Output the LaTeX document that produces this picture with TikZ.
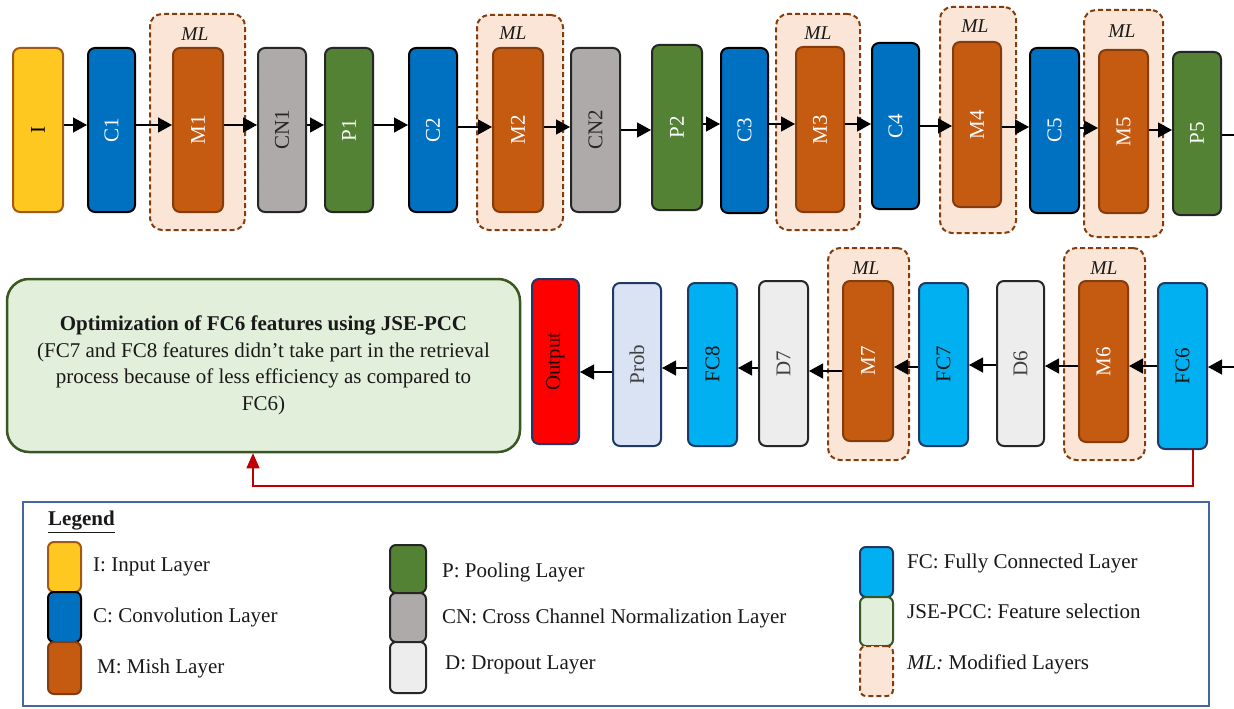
\documentclass[tikz,border=0pt]{standalone}
\usepackage{fontspec}
\IfFontExistsTF{LiberationSerif-Regular.ttf}{%
  \setmainfont{LiberationSerif}[Extension=.ttf, UprightFont=*-Regular, BoldFont=*-Bold, ItalicFont=*-Italic, BoldItalicFont=*-BoldItalic]}{%
  \setmainfont{Liberation Serif}}
\usetikzlibrary{arrows.meta}
\definecolor{cI}{RGB}{255,200,32}
\definecolor{cIb}{RGB}{160,90,20}
\definecolor{cC}{RGB}{0,112,192}
\definecolor{cM}{RGB}{197,90,17}
\definecolor{cMb}{RGB}{132,60,12}
\definecolor{cCN}{RGB}{174,170,170}
\definecolor{cP}{RGB}{84,130,53}
\definecolor{cML}{RGB}{251,229,214}
\definecolor{cMLb}{RGB}{132,60,12}
\definecolor{cOut}{RGB}{255,0,0}
\definecolor{cNavy}{RGB}{31,56,100}
\definecolor{cProb}{RGB}{218,227,243}
\definecolor{cFC}{RGB}{0,176,240}
\definecolor{cD}{RGB}{237,237,237}
\definecolor{cJ}{RGB}{226,239,218}
\definecolor{cJb}{RGB}{56,87,35}
\definecolor{cRed}{RGB}{192,0,0}
\definecolor{cLeg}{RGB}{65,105,160}
\definecolor{cDark}{RGB}{38,38,38}
\definecolor{cTxt}{RGB}{64,64,64}
% layer node: name, x1, y1, x2, y2, style, label
\newcommand\lyr[7]{\node[#6, minimum width={(#4-#2)*1pt}, minimum height={(#5-#3)*1pt}] (#1) at ({(#2+#4)/2},{(#3+#5)/2}) {\rotatebox{90}{#7}};}
% modified-layer frame: name, x1, y1, x2, y2, label x, label y
\newcommand\mlfr[7]{\node[mlst, minimum width={(#4-#2)*1pt}, minimum height={(#5-#3)*1pt}] (#1) at ({(#2+#4)/2},{(#3+#5)/2}) {};
\node[mllab] (#1lab) at (#6,#7) {ML};}
% legend swatch: name, x1, y1, x2, y2, style
\newcommand\swt[6]{\node[#6, rounded corners=6pt, minimum width={(#4-#2)*1pt}, minimum height={(#5-#3)*1pt}] (#1) at ({(#2+#4)/2},{(#3+#5)/2}) {};}
\newcommand\rarr[3]{\draw[arr] (#1.east |- 0,#3) -- (#2.west |- 0,#3);}
\newcommand\larr[3]{\draw[arr] (#1.west |- 0,#3) -- (#2.east |- 0,#3);}
\begin{document}
\begin{tikzpicture}[x=1pt,y=-1pt,
  base/.style={rectangle, rounded corners=7pt, line width=2pt, inner sep=0pt, font=\fontsize{21}{25}\selectfont},
  stI/.style={base, fill=cI, draw=cIb, text=black},
  stC/.style={base, fill=cC, draw=black, text=white},
  stM/.style={base, fill=cM, draw=cMb, text=white},
  stCN/.style={base, fill=cCN, draw=cDark, text=cDark},
  stP/.style={base, fill=cP, draw=cDark, text=white},
  stOut/.style={base, fill=cOut, draw=cNavy, text=black!85!red},
  stProb/.style={base, fill=cProb, draw=cNavy, text=cTxt},
  stFC/.style={base, fill=cFC, draw=cNavy, text=black!90},
  stD/.style={base, fill=cD, draw=cDark, text=cTxt},
  stJ/.style={base, fill=cJ, draw=cJb},
  mlst/.style={rectangle, rounded corners=12pt, fill=cML, draw=cMLb, line width=2pt, dash pattern=on 5pt off 3pt, inner sep=0pt},
  stMLs/.style={base, fill=cML, draw=cMLb, dash pattern=on 5pt off 3pt},
  mllab/.style={font=\fontsize{19.5}{22}\selectfont\itshape, text=black!90, inner sep=0pt},
  arr/.style={-{Triangle[length=14pt,width=15pt]}, line width=1.3pt, black},
  redarr/.style={-{Triangle[length=15pt,width=13pt]}, line width=1.3pt, draw=cRed, color=cRed},
  legtxt/.style={anchor=west, inner sep=0pt, font=\fontsize{21}{25}\selectfont, text=black!90},
]
\useasboundingbox (0,0) rectangle (1234,709);
\fill[white] (0,0) rectangle (1234,709);

% ---------- top row: modified-layer frames ----------
\mlfr{ml1}{150}{14}{245}{230}{195}{34}
\mlfr{ml2}{477}{15}{563}{230}{513}{33}
\mlfr{ml3}{776}{14}{860}{230}{818}{33}
\mlfr{ml4}{940}{7}{1016}{233}{975}{26}
\mlfr{ml5}{1084}{10}{1163}{237}{1122}{31}

% ---------- top row: layers ----------
\lyr{I}{13}{48}{63}{212}{stI}{I}
\lyr{C1}{88}{48}{135}{212}{stC}{C1}
\lyr{M1}{173}{48}{223}{212}{stM}{M1}
\lyr{CN1}{258}{48}{306}{212}{stCN}{CN1}
\lyr{P1}{325}{48}{373}{212}{stP}{P1}
\lyr{C2}{409}{48}{457}{212}{stC}{C2}
\lyr{M2}{493}{48}{543}{212}{stM}{M2}
\lyr{CN2}{571}{48}{620}{212}{stCN}{CN2}
\lyr{P2}{652}{45}{702}{210}{stP}{P2}
\lyr{C3}{721}{48}{768}{213}{stC}{C3}
\lyr{M3}{796}{47}{844}{212}{stM}{M3}
\lyr{C4}{872}{43}{919}{209}{stC}{C4}
\lyr{M4}{953}{42}{1001}{207}{stM}{M4}
\lyr{C5}{1030}{48}{1079}{213}{stC}{C5}
\lyr{M5}{1099}{50}{1148}{213}{stM}{M5}
\lyr{P5}{1173}{52}{1221}{215}{stP}{P5}

% ---------- top row: connectors ----------
\rarr{I}{C1}{125}
\rarr{C1}{M1}{125}
\rarr{M1}{CN1}{125}
\rarr{CN1}{P1}{125}
\rarr{P1}{C2}{125}
\rarr{C2}{M2}{127}
\rarr{M2}{CN2}{127}
\rarr{CN2}{P2}{130}
\rarr{P2}{C3}{124}
\rarr{C3}{M3}{124}
\rarr{M3}{C4}{124}
\rarr{C4}{M4}{126}
\rarr{M4}{C5}{127}
\rarr{C5}{M5}{128}
\rarr{M5}{P5}{130}
\coordinate (topout) at (1234,135);
\draw[line width=1.3pt] (P5.east |- topout) -- (topout);

% ---------- bottom row ----------
\node[stJ, rounded corners=22pt, line width=2.5pt, minimum width=513pt, minimum height=173pt,
  align=center, text=black!90, font=\fontsize{21}{26.5}\selectfont] (opt) at (263.5,365.5)
  {{\bfseries Optimization of FC6 features using JSE-PCC}\\(FC7 and FC8 features didn’t take part in the retrieval\\process because of less efficiency as compared to\\FC6)};

\mlfr{ml7}{828}{248}{909}{460}{866}{268}
\mlfr{ml6}{1064}{248}{1145}{460}{1104}{268}

\lyr{Out}{532}{279}{579}{444}{stOut}{Output}
\lyr{Prob}{613}{283}{661}{446}{stProb}{Prob}
\lyr{FC8}{688}{283}{737}{446}{stFC}{FC8}
\lyr{D7}{759}{281}{808}{446}{stD}{D7}
\lyr{M7}{843}{281}{893}{441}{stM}{M7}
\lyr{FC7}{919}{283}{968}{446}{stFC}{FC7}
\lyr{D6}{997}{281}{1044}{446}{stD}{D6}
\lyr{M6}{1079}{281}{1128}{442}{stM}{M6}
\lyr{FC6}{1158}{283}{1207}{449}{stFC}{FC6}

\coordinate (botin) at (1234,367);
\draw[arr] (botin) -- (FC6.east |- botin);
\larr{FC6}{M6}{366}
\larr{M6}{D6}{366}
\larr{D6}{FC7}{365}
\larr{FC7}{M7}{367}
\larr{M7}{D7}{371}
\larr{D7}{FC8}{368}
\larr{FC8}{Prob}{368}
\larr{Prob}{Out}{372}

% feedback to feature selection
\coordinate (rb1) at (1193,486);
\coordinate (rb2) at (253,486);
\draw[redarr] (FC6.south -| rb1) -- (rb1) -- (rb2) -- (opt.south -| rb2);

% ---------- legend ----------
\node[draw=cLeg, line width=1.6pt, minimum width=1186pt, minimum height=204pt, inner sep=0pt] (legend) at (616,604) {};
\node[anchor=west, inner sep=0pt, font=\fontsize{21}{25}\selectfont\bfseries, text=black!90] (legtitle) at (48,522) {\underline{Legend}};

\swt{sI}{48}{542}{81}{592}{stI}
\swt{sC}{48}{592}{81}{642}{stC}
\swt{sM}{48}{642}{81}{694}{stM}
\node[legtxt] (tI) at (93,567) {I: Input Layer};
\node[legtxt] (tC) at (93,617) {C: Convolution Layer};
\node[legtxt] (tM) at (97,668) {M: Mish Layer};

\swt{sP}{390}{545}{426}{593}{stP}
\swt{sCN}{390}{593}{426}{642}{stCN}
\swt{sD}{390}{642}{426}{693}{stD}
\node[legtxt] (tP) at (442,572) {P: Pooling Layer};
\node[legtxt] (tCN) at (442,618) {CN: Cross Channel Normalization Layer};
\node[legtxt] (tD) at (445,665) {D: Dropout Layer};

\swt{sFC}{860}{547}{893}{597}{stFC}
\swt{sJ}{860}{597}{893}{646}{stJ}
\swt{sML}{860}{646}{893}{696}{stMLs}
\node[legtxt] (tFC) at (907,563) {FC: Fully Connected Layer};
\node[legtxt] (tJ) at (907,611) {JSE-PCC: Feature selection};
\node[legtxt] (tML) at (907,664) {\textit{ML:} Modified Layers};
\end{tikzpicture}
\end{document}
